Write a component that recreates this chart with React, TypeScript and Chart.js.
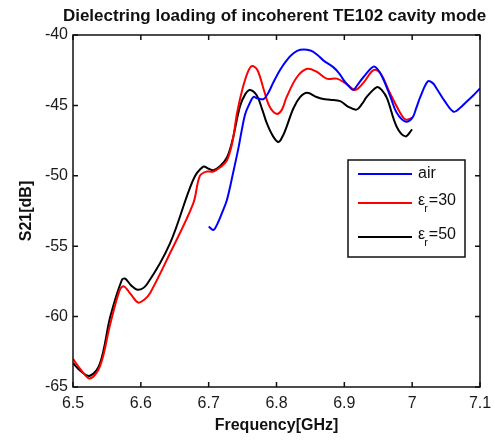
import React, { useEffect, useRef } from "react";
import { Chart, registerables } from "chart.js";
Chart.register(...registerables);

const xTicks = [6.5, 6.6, 6.7, 6.8, 6.9, 7.0, 7.1];
const xTickLabels = ["6.5", "6.6", "6.7", "6.8", "6.9", "7", "7.1"];
const yTicks = [-65, -60, -55, -50, -45, -40];
const yTickLabels = ["-65", "-60", "-55", "-50", "-45", "-40"];

const chartTitle = "Dielectring loading of incoherent TE102 cavity mode";
const xTitle = "Frequency[GHz]";
const yTitle = "S21[dB]";

const seriesLabels = ["air", "ε_r=30", "ε_r=50"];
const seriesColors = ["#0000ff", "#ff0000", "#000000"];

const airFreq = [6.700, 6.707, 6.712, 6.720, 6.727, 6.736, 6.744, 6.749, 6.754, 6.759, 6.766, 6.772, 6.781, 6.788, 6.795, 6.805, 6.815, 6.825, 6.835, 6.850, 6.860, 6.869, 6.884, 6.892, 6.899, 6.906, 6.913, 6.920, 6.928, 6.943, 6.950, 6.958, 6.968, 6.977, 6.990, 7.000, 7.006, 7.012, 7.023, 7.030, 7.036, 7.048, 7.061, 7.070, 7.081, 7.090, 7.100];
const airS21 = [-53.6, -53.85, -53.5, -52.6, -51.7, -49.8, -48.0, -46.7, -45.6, -45.0, -44.4, -44.5, -44.55, -44.1, -43.4, -42.5, -41.8, -41.3, -41.05, -41.1, -41.4, -41.8, -42.3, -42.7, -43.2, -43.6, -43.9, -43.5, -43.0, -42.25, -42.5, -43.2, -44.4, -45.5, -46.15, -45.9, -45.2, -44.4, -43.3, -43.4, -43.8, -44.7, -45.45, -45.2, -44.7, -44.3, -43.8];

const er30Freq = [6.500, 6.512, 6.525, 6.540, 6.555, 6.569, 6.575, 6.585, 6.596, 6.605, 6.614, 6.643, 6.677, 6.687, 6.697, 6.707, 6.717, 6.727, 6.735, 6.742, 6.750, 6.758, 6.764, 6.772, 6.782, 6.790, 6.800, 6.808, 6.815, 6.830, 6.845, 6.859, 6.874, 6.889, 6.904, 6.916, 6.928, 6.943, 6.953, 6.967, 6.982, 6.990, 7.000];
const er30S21 = [-63.0, -63.8, -64.4, -63.5, -60.5, -58.1, -57.85, -58.4, -59.0, -58.8, -58.3, -55.5, -52.0, -50.0, -49.7, -49.7, -49.4, -48.9, -47.6, -45.5, -43.8, -42.6, -42.2, -42.5, -44.0, -45.1, -45.6, -45.3, -44.4, -43.0, -42.4, -42.6, -43.1, -43.1, -43.5, -43.9, -43.4, -42.5, -42.7, -44.1, -45.5, -46.0, -45.9];

const er50Freq = [6.500, 6.512, 6.525, 6.540, 6.555, 6.572, 6.577, 6.586, 6.596, 6.609, 6.643, 6.677, 6.692, 6.700, 6.707, 6.717, 6.727, 6.735, 6.746, 6.754, 6.761, 6.771, 6.779, 6.786, 6.795, 6.803, 6.810, 6.815, 6.825, 6.835, 6.845, 6.859, 6.869, 6.879, 6.894, 6.906, 6.918, 6.926, 6.933, 6.948, 6.955, 6.963, 6.977, 6.990, 7.000];
const er50S21 = [-63.3, -63.9, -64.2, -63.3, -60.0, -57.4, -57.3, -57.8, -58.1, -57.7, -54.8, -50.3, -49.35, -49.5, -49.6, -49.3, -48.7, -47.5, -45.1, -44.2, -43.9, -44.3, -45.3, -46.3, -47.2, -47.6, -47.1, -46.5, -45.2, -44.4, -44.1, -44.4, -44.55, -44.6, -44.7, -45.1, -45.3, -44.9, -44.4, -43.7, -43.9, -44.5, -46.5, -47.2, -46.7];

const FONT = "'Liberation Sans', Arial, Helvetica, sans-serif";

const zip = (xs: number[], ys: number[]) => xs.map((x, i) => ({ x, y: ys[i] }));

const framePlugin = {
  id: "frameTicks",
  afterDatasetsDraw(chart: any) {
    const { ctx, chartArea: ca } = chart;
    const xs = chart.scales.x;
    const ys = chart.scales.y;
    ctx.save();
    ctx.strokeStyle = "#111";
    ctx.lineWidth = 1.5;
    ctx.strokeRect(ca.left, ca.top, ca.right - ca.left, ca.bottom - ca.top);
    const L = 5;
    ctx.beginPath();
    xTicks.forEach((v) => {
      const px = xs.getPixelForValue(v);
      ctx.moveTo(px, ca.bottom);
      ctx.lineTo(px, ca.bottom - L);
      ctx.moveTo(px, ca.top);
      ctx.lineTo(px, ca.top + L);
    });
    yTicks.forEach((v) => {
      const py = ys.getPixelForValue(v);
      ctx.moveTo(ca.left, py);
      ctx.lineTo(ca.left + L, py);
      ctx.moveTo(ca.right, py);
      ctx.lineTo(ca.right - L, py);
    });
    ctx.stroke();

    // title
    ctx.fillStyle = "#111";
    ctx.font = `bold 17px ${FONT}`;
    ctx.textAlign = "center";
    ctx.textBaseline = "middle";
    ctx.fillText(chartTitle, (ca.left + ca.right) / 2 - 2, 16);

    // legend
    const bx = ca.left + 275;
    const by = ca.top + 125;
    const bw = 117;
    const bh = 97;
    ctx.fillStyle = "#fff";
    ctx.fillRect(bx, by, bw, bh);
    ctx.strokeStyle = "#111";
    ctx.lineWidth = 1.5;
    ctx.strokeRect(bx, by, bw, bh);
    const rowY = [14, 43, 77];
    seriesLabels.forEach((lab, i) => {
      const y = by + rowY[i];
      ctx.strokeStyle = seriesColors[i];
      ctx.lineWidth = 2;
      ctx.beginPath();
      ctx.moveTo(bx + 10, y);
      ctx.lineTo(bx + 64, y);
      ctx.stroke();
      ctx.fillStyle = "#111";
      ctx.textAlign = "left";
      ctx.textBaseline = "middle";
      let tx = bx + 70;
      const parts = lab.split("_");
      if (parts.length === 1) {
        ctx.font = `16px ${FONT}`;
        ctx.fillText(lab, tx, y);
      } else {
        ctx.font = `16px ${FONT}`;
        ctx.fillText(parts[0], tx, y - 2);
        tx += ctx.measureText(parts[0]).width;
        const sub = parts[1].charAt(0);
        const rest = parts[1].slice(1);
        ctx.font = `11px ${FONT}`;
        ctx.fillText(sub, tx - 1, y + 6);
        tx += ctx.measureText(sub).width;
        ctx.font = `16px ${FONT}`;
        ctx.fillText(rest, tx, y - 2);
      }
    });
    ctx.restore();
  },
};

export default function App() {
  const ref = useRef<HTMLCanvasElement>(null);
  useEffect(() => {
    document.body.style.margin = "0";
    const canvas = ref.current!;
    const chart = new Chart(canvas, {
      type: "line",
      data: {
        datasets: [
          { label: seriesLabels[0], data: zip(airFreq, airS21) },
          { label: seriesLabels[1], data: zip(er30Freq, er30S21) },
          { label: seriesLabels[2], data: zip(er50Freq, er50S21) },
        ].map((d, i) => ({
          ...d,
          borderColor: seriesColors[i],
          backgroundColor: seriesColors[i],
          borderWidth: 2,
          pointRadius: 0,
          tension: 0.35,
          fill: false,
        })),
      },
      options: {
        responsive: false,
        animation: false,
        layout: { padding: { top: 35, right: 15, left: 0, bottom: 0 } },
        plugins: { legend: { display: false }, title: { display: false }, tooltip: { enabled: false } },
        scales: {
          x: {
            type: "linear",
            min: 6.5,
            max: 7.1,
            grid: { display: false, drawTicks: false },
            border: { display: false },
            afterBuildTicks: (s: any) => {
              s.ticks = xTicks.map((v) => ({ value: v }));
            },
            afterFit: (s: any) => {
              s.height = 53;
              s.paddingLeft = 0;
              s.paddingRight = 0;
            },
            ticks: {
              autoSkip: false,
              maxRotation: 0,
              padding: 7,
              color: "#1a1a1a",
              font: { family: FONT, size: 16 },
              callback: (_v: any, i: number) => xTickLabels[i],
            },
            title: {
              display: true,
              text: xTitle,
              color: "#111",
              font: { family: FONT, size: 16, weight: "bold" },
              padding: { top: 0, bottom: 5 },
            },
          },
          y: {
            type: "linear",
            min: -65,
            max: -40,
            grid: { display: false, drawTicks: false },
            border: { display: false },
            afterBuildTicks: (s: any) => {
              s.ticks = yTicks.map((v) => ({ value: v }));
            },
            afterFit: (s: any) => {
              s.width = 73;
              s.paddingTop = 0;
              s.paddingBottom = 0;
            },
            ticks: {
              autoSkip: false,
              padding: 5,
              color: "#1a1a1a",
              font: { family: FONT, size: 16 },
              callback: (_v: any, i: number) => yTickLabels[i],
            },
            title: {
              display: true,
              text: yTitle,
              color: "#111",
              font: { family: FONT, size: 16, weight: "bold" },
              padding: { top: 17, bottom: 17 },
            },
          },
        },
      },
      plugins: [framePlugin],
    } as any);
    return () => chart.destroy();
  }, []);
  return <canvas ref={ref} width={495} height={440} style={{ display: "block" }} />;
}
